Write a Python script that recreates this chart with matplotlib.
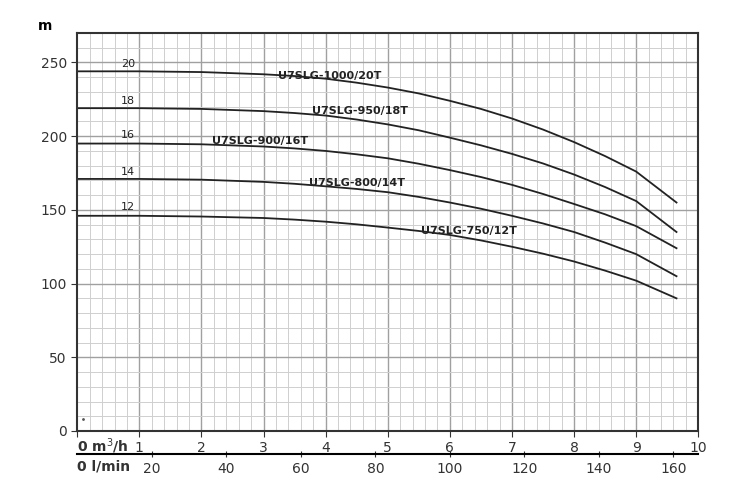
import matplotlib.pyplot as plt
import numpy as np

flow = [0, 1, 2, 3, 3.5, 4, 4.5, 5, 5.5, 6, 6.5, 7, 7.5, 8, 8.5, 9, 9.65]
h_20t = [244, 244, 243.5, 242, 240.8, 239, 236.3, 233, 229, 224, 218.5, 212, 204.5, 196, 186.5, 176, 155]
h_18t = [219, 219, 218.5, 217, 215.7, 214, 211.3, 208, 204, 199, 193.8, 188, 181.5, 174, 165.5, 156, 135]
h_16t = [195, 195, 194.5, 193, 191.7, 190, 187.7, 185, 181.3, 177, 172.3, 167, 160.8, 154, 147, 139, 124]
h_14t = [171, 171, 170.5, 169, 167.7, 166, 164.2, 162, 158.8, 155, 150.8, 146, 140.8, 135, 127.8, 120, 105]
h_12t = [146, 146, 145.5, 144.5, 143.4, 142, 140.2, 138, 135.7, 133, 129.3, 125, 120.3, 115, 108.8, 102, 90]

curves = [
    (h_20t, "U7SLG-1000/20T", (4.07, 241), "20", 249),
    (h_18t, "U7SLG-950/18T", (4.56, 217), "18", 224),
    (h_16t, "U7SLG-900/16T", (2.95, 197), "16", 201),
    (h_14t, "U7SLG-800/14T", (4.5, 168), "14", 176),
    (h_12t, "U7SLG-750/12T", (6.3, 136), "12", 152),
]
lpm_ticks = [20, 40, 60, 80, 100, 120, 140, 160]

fig = plt.figure(figsize=(7.5, 5), dpi=100)
ax = fig.add_axes([0.103, 0.138, 0.828, 0.796])
ax.set_xlim(0, 10)
ax.set_ylim(0, 270)

# grid: fine every 0.2 / 10, darker every 1 / 50
for x in np.arange(0.2, 10, 0.2):
    major = abs(x - round(x)) < 1e-6
    ax.axvline(x, color="#a0a0a0" if major else "#cfcfcf", lw=1.0 if major else 0.7, zorder=0)
for y in range(10, 270, 10):
    major = y % 50 == 0
    ax.axhline(y, color="#a0a0a0" if major else "#cfcfcf", lw=1.0 if major else 0.7, zorder=0)

for h, name, (lx, ly), num, ny in curves:
    ax.plot(flow, h, color="#222222", lw=1.3)
    ax.text(lx, ly, name, fontsize=8, fontweight="bold", ha="center", va="center", color="#222222")
    ax.text(0.82, ny, num, fontsize=8, ha="center", va="center", color="#222222")

ax.plot([0.1], [8], marker=".", ms=2, color="#555555")

for s in ax.spines.values():
    s.set_linewidth(1.5)
    s.set_color("#333333")
ax.set_yticks([0, 50, 100, 150, 200, 250])
ax.tick_params(axis="y", labelsize=10, length=4, colors="#333333")
ax.set_xticks(range(0, 11))
ax.set_xticklabels([""] + [str(i) for i in range(1, 11)])
ax.tick_params(axis="x", labelsize=10, length=4, colors="#333333")
ax.text(0, -4, "0 m$^3$/h", fontsize=10, fontweight="bold",
        ha="left", va="top", color="#333333", clip_on=False)
ax.text(-0.04, 1.0, "m", transform=ax.transAxes, fontsize=10, fontweight="bold", ha="right", va="bottom")

sec = ax.secondary_xaxis(-0.058, functions=(lambda q: q * 1000 / 60, lambda l: l * 60 / 1000))
sec.set_xticks(lpm_ticks)
sec.tick_params(labelsize=10, length=4, direction="inout", colors="#333333")
sec.spines["bottom"].set_linewidth(1.5)
ax.text(0, -19, "0 l/min", fontsize=10, fontweight="bold", ha="left", va="top", color="#333333",
        clip_on=False)

fig.savefig("out.png", dpi=100)
